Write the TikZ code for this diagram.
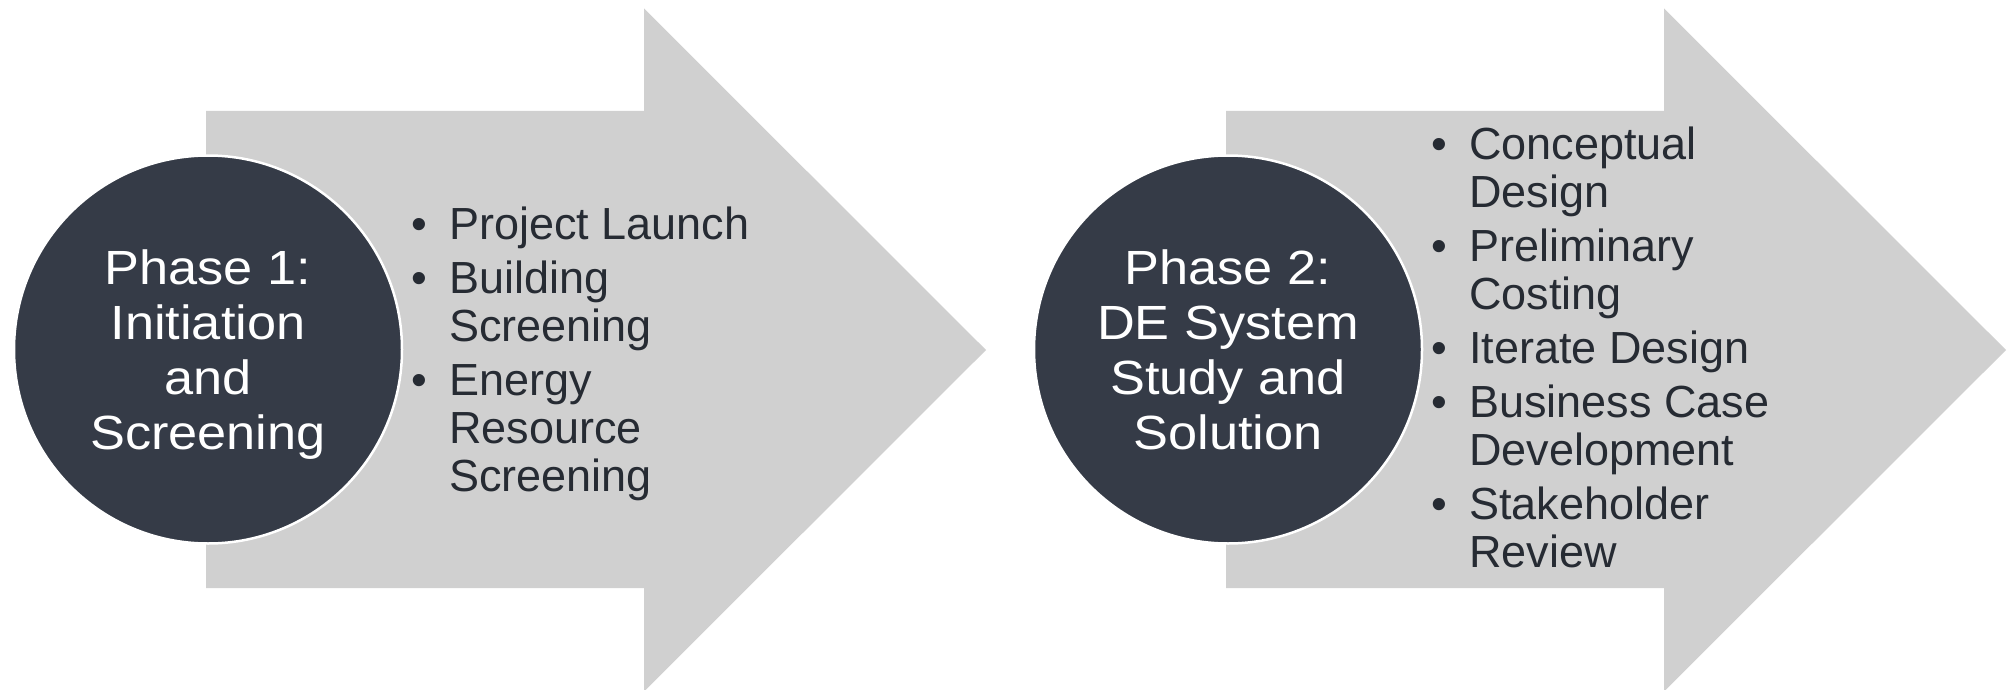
\documentclass[tikz,border=0pt]{standalone}
\usepackage{fontspec}
\setmainfont{Liberation Sans}
\newfontfamily\phasefont[FakeStretch=1.09]{Liberation Sans}

\definecolor{phasedark}{HTML}{353B47}
\definecolor{arrowgray}{HTML}{D0D0D0}
\definecolor{listtext}{HTML}{262B33}

\tikzset{
    phase/.style={circle, minimum size=388pt, fill=phasedark, draw=white,
        line width=2.5pt, text=white, align=center, text depth=0pt,
        font=\phasefont\fontsize{48}{55}\selectfont},
    steps/.style={anchor=base west, inner sep=0pt, text=listtext,
        font=\fontsize{45}{48}\selectfont},
}
\newcommand{\bul}{\makebox[38pt][l]{\textbullet}}

\begin{document}
\begin{tikzpicture}[x=1pt, y=-1pt]
    \useasboundingbox (0, 0) rectangle (2009, 690);

    % the two big arrows
    \fill[arrowgray] (206, 111) -- (644, 111) -- (644, 8.5) -- (986, 350)
        -- (644, 691.5) -- (644, 588) -- (206, 588) -- cycle;
    \fill[arrowgray] (1226, 111) -- (1664, 111) -- (1664, 8.5) -- (2006, 350)
        -- (1664, 691.5) -- (1664, 588) -- (1226, 588) -- cycle;

    \node[phase] at (208, 349.5)(p1){Phase 1:\\Initiation\\and\\Screening};
    \node[phase] at (1228, 349.5)(p2){Phase 2:\\DE System\\Study and\\Solution};

    \node[steps] at (411, 239)(list1){\begin{tabular}[t]{@{}l@{}l@{}}
        \bul & Project Launch\\[6pt]
        \bul & Building\\
             & Screening\\[6pt]
        \bul & Energy\\
             & Resource\\
             & Screening
    \end{tabular}};
    \node[steps] at (1431, 159)(list2){\begin{tabular}[t]{@{}l@{}l@{}}
        \bul & Conceptual\\
             & Design\\[6pt]
        \bul & Preliminary\\
             & Costing\\[6pt]
        \bul & Iterate Design\\[6pt]
        \bul & Business Case\\
             & Development\\[6pt]
        \bul & Stakeholder\\
             & Review
    \end{tabular}};
\end{tikzpicture}
\end{document}
